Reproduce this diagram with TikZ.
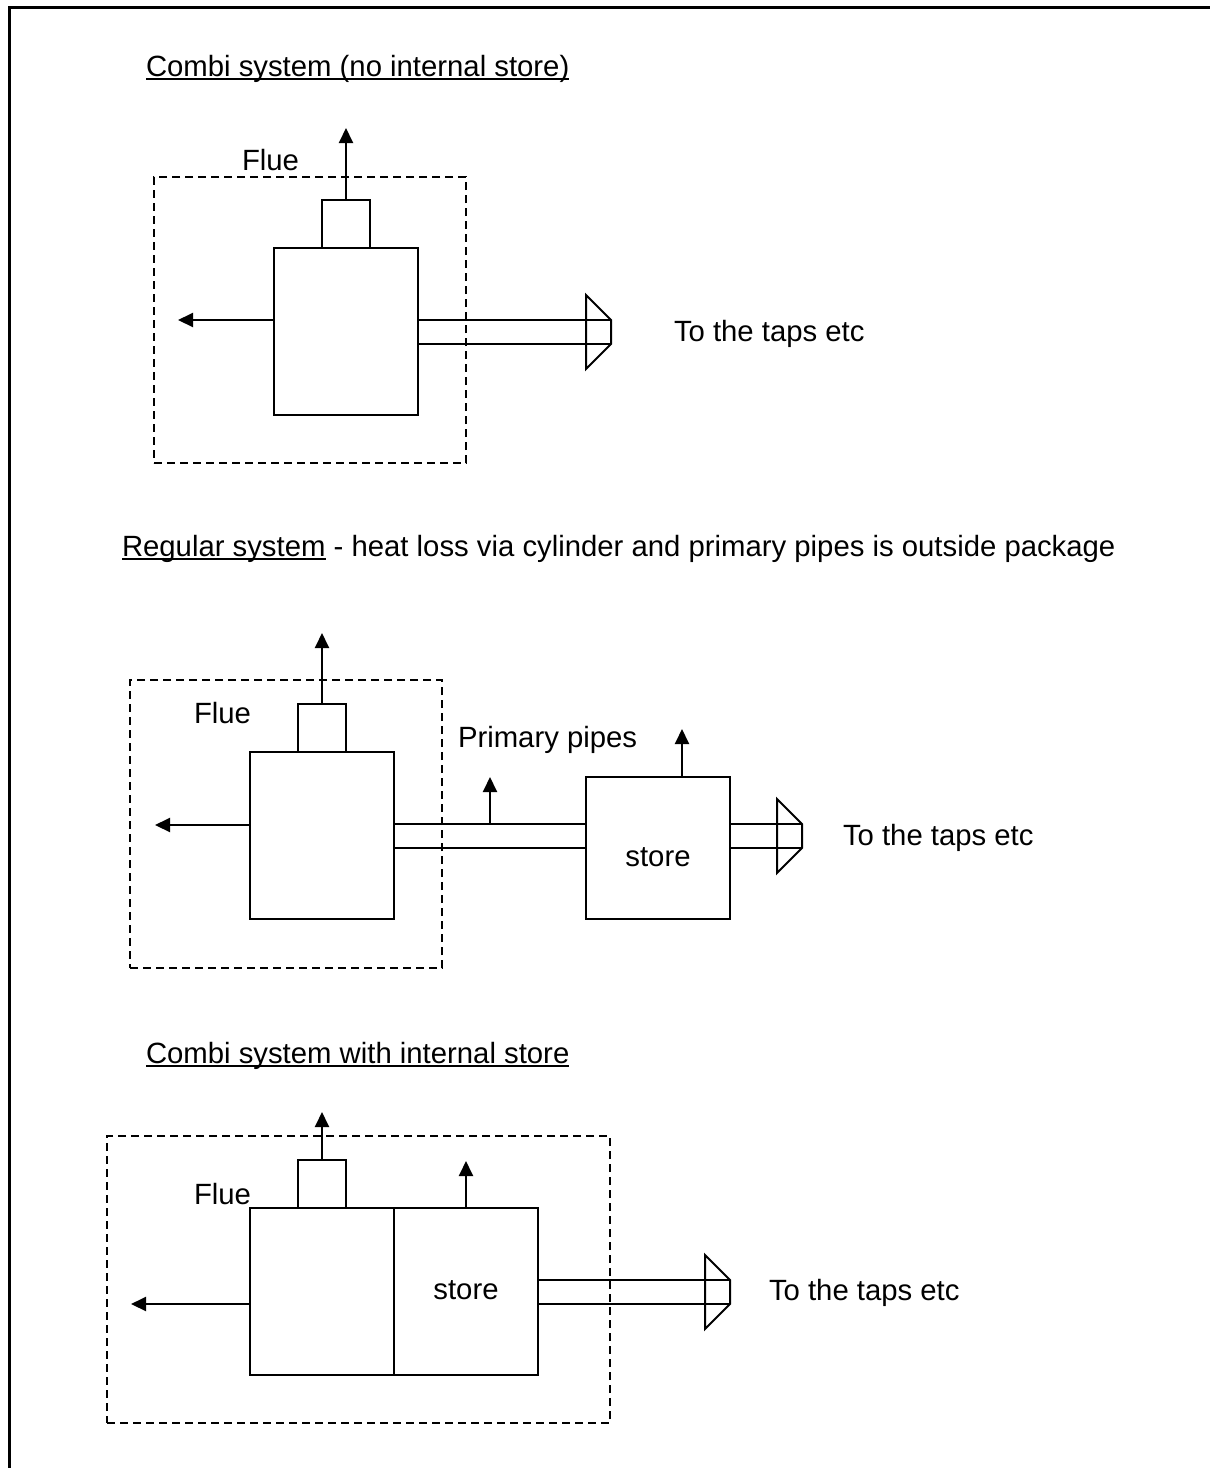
\documentclass[tikz,border=0pt]{standalone}
\usepackage{fontspec}
\setmainfont{Liberation Sans}
\usetikzlibrary{arrows.meta}
\newcommand\tapshead[4]{% #1 x start, #2 x tip, #3 y top, #4 y bottom
  \draw[pipeline] (#1,#3) -- (#2,#3) (#1,#4) -- (#2,#4);
  \draw[pipeline,line join=miter] (#2-25,#3-25) -- (#2,#3) -- (#2,#4) -- (#2-25,#4+25) -- cycle;
}
\begin{document}
\begin{tikzpicture}[x=1pt,y=-1pt,
  box/.style={draw,line width=2pt,inner sep=0pt,outer sep=0pt,anchor=north west},
  pkg/.style={draw,line width=2pt,dash pattern=on 8pt off 5pt,inner sep=0pt,outer sep=0pt,anchor=north west},
  arr/.style={line width=2pt,-{Triangle[length=15pt,width=14pt]}},
  pipeline/.style={line width=2pt},
  txt/.style={inner sep=0pt,outer sep=0pt,font=\fontsize{29.3}{34}\selectfont,anchor=base west},
  uline/.style={line width=2pt},
]
\useasboundingbox (0,0) rectangle (1210,1468);
\draw[line width=3pt] (9,1468) -- (9,7) -- (1210,7);

% ---------------- Section 1 ----------------
\node[txt] (t1) at (146,76) {Combi system (no internal store)};
\draw[uline] ([yshift=-3.3pt]t1.base west) -- ([yshift=-3.3pt]t1.base east);
\node[pkg,minimum width=312pt,minimum height=286pt] (d1) at (154,177) {};
\node[box,minimum width=48pt,minimum height=48pt] (f1) at (322,200) {};
\node[box,minimum width=144pt,minimum height=167pt] (b1) at (274,248) {};
\node[txt] (fl1) at (242,170) {Flue};
\coordinate (up1) at (346,128);
\draw[arr] (f1.north) -- (up1);
\coordinate (lo1) at (178,320);
\draw[arr] (b1.west |- lo1) -- (lo1);
\tapshead{418}{611}{320}{344}
\node[txt] (tap1) at (674,341) {To the taps etc};

% ---------------- Section 2 ----------------
\node[txt] (t2a) at (122,556) {Regular system};
\draw[uline] ([yshift=-3.3pt]t2a.base west) -- ([yshift=-3.3pt]t2a.base east);
\node[txt] (t2b) at ([xshift=8.15pt]t2a.base east) {- heat loss via cylinder and primary pipes is outside package};
\node[pkg,minimum width=312pt,minimum height=288pt] (d2) at (130,680) {};
\node[box,minimum width=48pt,minimum height=48pt] (f2) at (298,704) {};
\node[box,minimum width=144pt,minimum height=167pt] (b2) at (250,752) {};
\node[txt] (fl2) at (194,723) {Flue};
\coordinate (up2) at (322,633);
\draw[arr] (f2.north) -- (up2);
\coordinate (lo2) at (155,825);
\draw[arr] (b2.west |- lo2) -- (lo2);
\node[box,minimum width=144pt,minimum height=142pt] (s2) at (586,777) {};
\node[txt,anchor=base] (st2) at (658,866) {store};
\coordinate (pt) at (394,824);
\coordinate (pb) at (394,848);
\draw[pipeline] (pt) -- (s2.west |- pt) (pb) -- (s2.west |- pb);
\coordinate (pp) at (490,824);
\coordinate (ppup) at (490,777);
\draw[arr] (pp) -- (ppup);
\node[txt] (prim) at (458,747) {Primary pipes};
\coordinate (up2s) at (682,729);
\draw[arr] (s2.north west -| up2s) -- (up2s);
\tapshead{730}{802}{824}{848}
\node[txt] (tap2) at (843,845) {To the taps etc};

% ---------------- Section 3 ----------------
\node[txt] (t3) at (146,1063) {Combi system with internal store};
\draw[uline] ([yshift=-3.3pt]t3.base west) -- ([yshift=-3.3pt]t3.base east);
\node[pkg,minimum width=503pt,minimum height=287pt] (d3) at (107,1136) {};
\node[box,minimum width=48pt,minimum height=48pt] (f3) at (298,1160) {};
\node[box,minimum width=144pt,minimum height=167pt] (b3) at (250,1208) {};
\node[box,minimum width=144pt,minimum height=167pt] (s3) at (394,1208) {};
\node[txt] (fl3) at (194,1204) {Flue};
\node[txt,anchor=base] (st3) at (466,1299) {store};
\coordinate (up3) at (322,1112);
\draw[arr] (f3.north) -- (up3);
\coordinate (up3s) at (466,1161);
\draw[arr] (s3.north west -| up3s) -- (up3s);
\coordinate (lo3) at (131,1304);
\draw[arr] (b3.west |- lo3) -- (lo3);
\tapshead{538}{730}{1280}{1304}
\node[txt] (tap3) at (769,1300) {To the taps etc};
\end{tikzpicture}
\end{document}
